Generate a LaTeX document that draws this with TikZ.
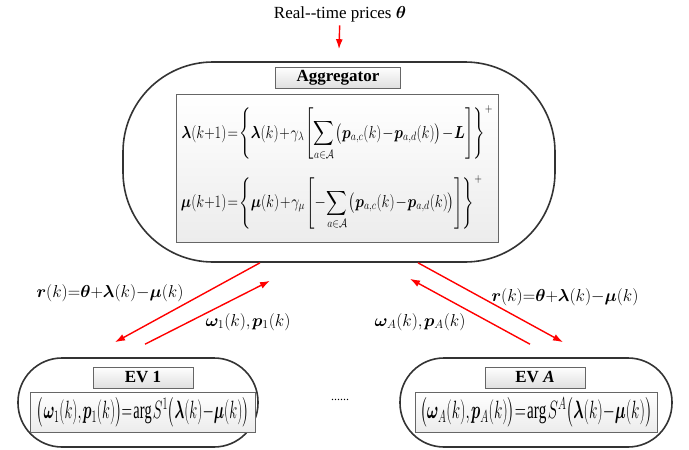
\documentclass[tikz,border=0pt]{standalone}
\usepackage{amsmath,amssymb}
\usepackage{bm}
\usepackage{fontspec}
\setmainfont{Liberation Serif}
\usetikzlibrary{arrows.meta}
\thinmuskip=1.5mu
\medmuskip=1mu
\thickmuskip=1.5mu

\begin{document}
\begin{tikzpicture}[x=1pt, y=-1pt, every node/.style={font=\fontsize{17}{20}\selectfont}, >={Latex[length=10pt,width=7pt]},
	pod/.style={draw=black!80, line width=1.6pt, inner sep=0pt},
	tag/.style={draw=gray!80!black, top color=white, bottom color=gray!25, minimum height=21pt, inner sep=0pt, font=\fontsize{17}{20}\selectfont\bfseries},
	eqbox/.style={draw=gray!80!black, top color=white, bottom color=gray!15, inner sep=0pt},
	flow/.style={red, line width=1.4pt, ->}]
	\useasboundingbox (0,0) rectangle (689,450);
	\node[pod, rounded corners=90pt, minimum width=432pt, minimum height=200pt] (agg) at (339,162) {};
	\node[tag, minimum width=125pt] (aggt) at (338,77.5) {Aggregator};
	\node[eqbox, minimum width=322pt, minimum height=148pt] (aggf) at (337,168) {\resizebox*{312pt}{124pt}{$\displaystyle\begin{aligned}
		\bm{\lambda}(k{+}1) &= \left\{\bm{\lambda}(k)+\gamma_{\lambda}\left[\sum_{a\in\mathcal{A}}\big(\bm{p}_{a,c}(k)-\bm{p}_{a,d}(k)\big)-\bm{L}\right]\right\}^{+}\\[10pt]
		\bm{\mu}(k{+}1) &= \left\{\bm{\mu}(k)+\gamma_{\mu}\left[-\sum_{a\in\mathcal{A}}\big(\bm{p}_{a,c}(k)-\bm{p}_{a,d}(k)\big)\right]\right\}^{+}
	\end{aligned}$}};
	\node[pod, rounded corners=44pt, minimum width=240pt, minimum height=89pt] (ev1) at (138,402.5) {};
	\node[tag, minimum width=100pt] (ev1t) at (143,377.5) {EV 1};
	\node[eqbox, minimum width=225pt, minimum height=40pt] (ev1f) at (143,412) {\resizebox*{212pt}{30pt}{$\big(\bm{\omega}_1(k),\bm{p}_1(k)\big){=}\arg S^{1}\big(\bm{\lambda}(k){-}\bm{\mu}(k)\big)$}};
	\node[pod, rounded corners=44pt, minimum width=272pt, minimum height=89pt] (evA) at (536,402.5) {};
	\node[tag, minimum width=100pt] (evAt) at (535,377.5) {EV \textit{A}};
	\node[eqbox, minimum width=242pt, minimum height=40pt] (evAf) at (536,412) {\resizebox*{232pt}{30pt}{$\big(\bm{\omega}_A(k),\bm{p}_A(k)\big){=}\arg S^{A}\big(\bm{\lambda}(k){-}\bm{\mu}(k)\big)$}};
	\node[font=\fontsize{12}{14}\selectfont] (dots) at (340,400) {......};
	\node (price) at (340,14) {Real-{}-time prices $\bm{\theta}$};
	\draw[flow] (price) -- ([yshift=12pt]agg.north);
	% price signal down, schedules up
	\draw[flow] ([xshift=-79pt]agg.south) -- ([xshift=-23pt,yshift=15pt]ev1.north);
	\draw[flow] ([xshift=7pt,yshift=13pt]ev1.north) -- ([xshift=-69pt,yshift=-18pt]agg.south);
	\draw[flow] ([xshift=-6pt,yshift=13pt]evA.north) -- ([xshift=71pt,yshift=-16pt]agg.south);
	\draw[flow] ([xshift=79pt]agg.south) -- ([xshift=27pt,yshift=15pt]evA.north);
	\node (rl) at (110,293) {$\bm{r}(k){=}\bm{\theta}{+}\bm{\lambda}(k){-}\bm{\mu}(k)$};
	\node (w1) at (248,322) {$\bm{\omega}_1(k),\bm{p}_1(k)$};
	\node (wA) at (420,322) {$\bm{\omega}_A(k),\bm{p}_A(k)$};
	\node (rr) at (565,297) {$\bm{r}(k){=}\bm{\theta}{+}\bm{\lambda}(k){-}\bm{\mu}(k)$};
\end{tikzpicture}
\end{document}
